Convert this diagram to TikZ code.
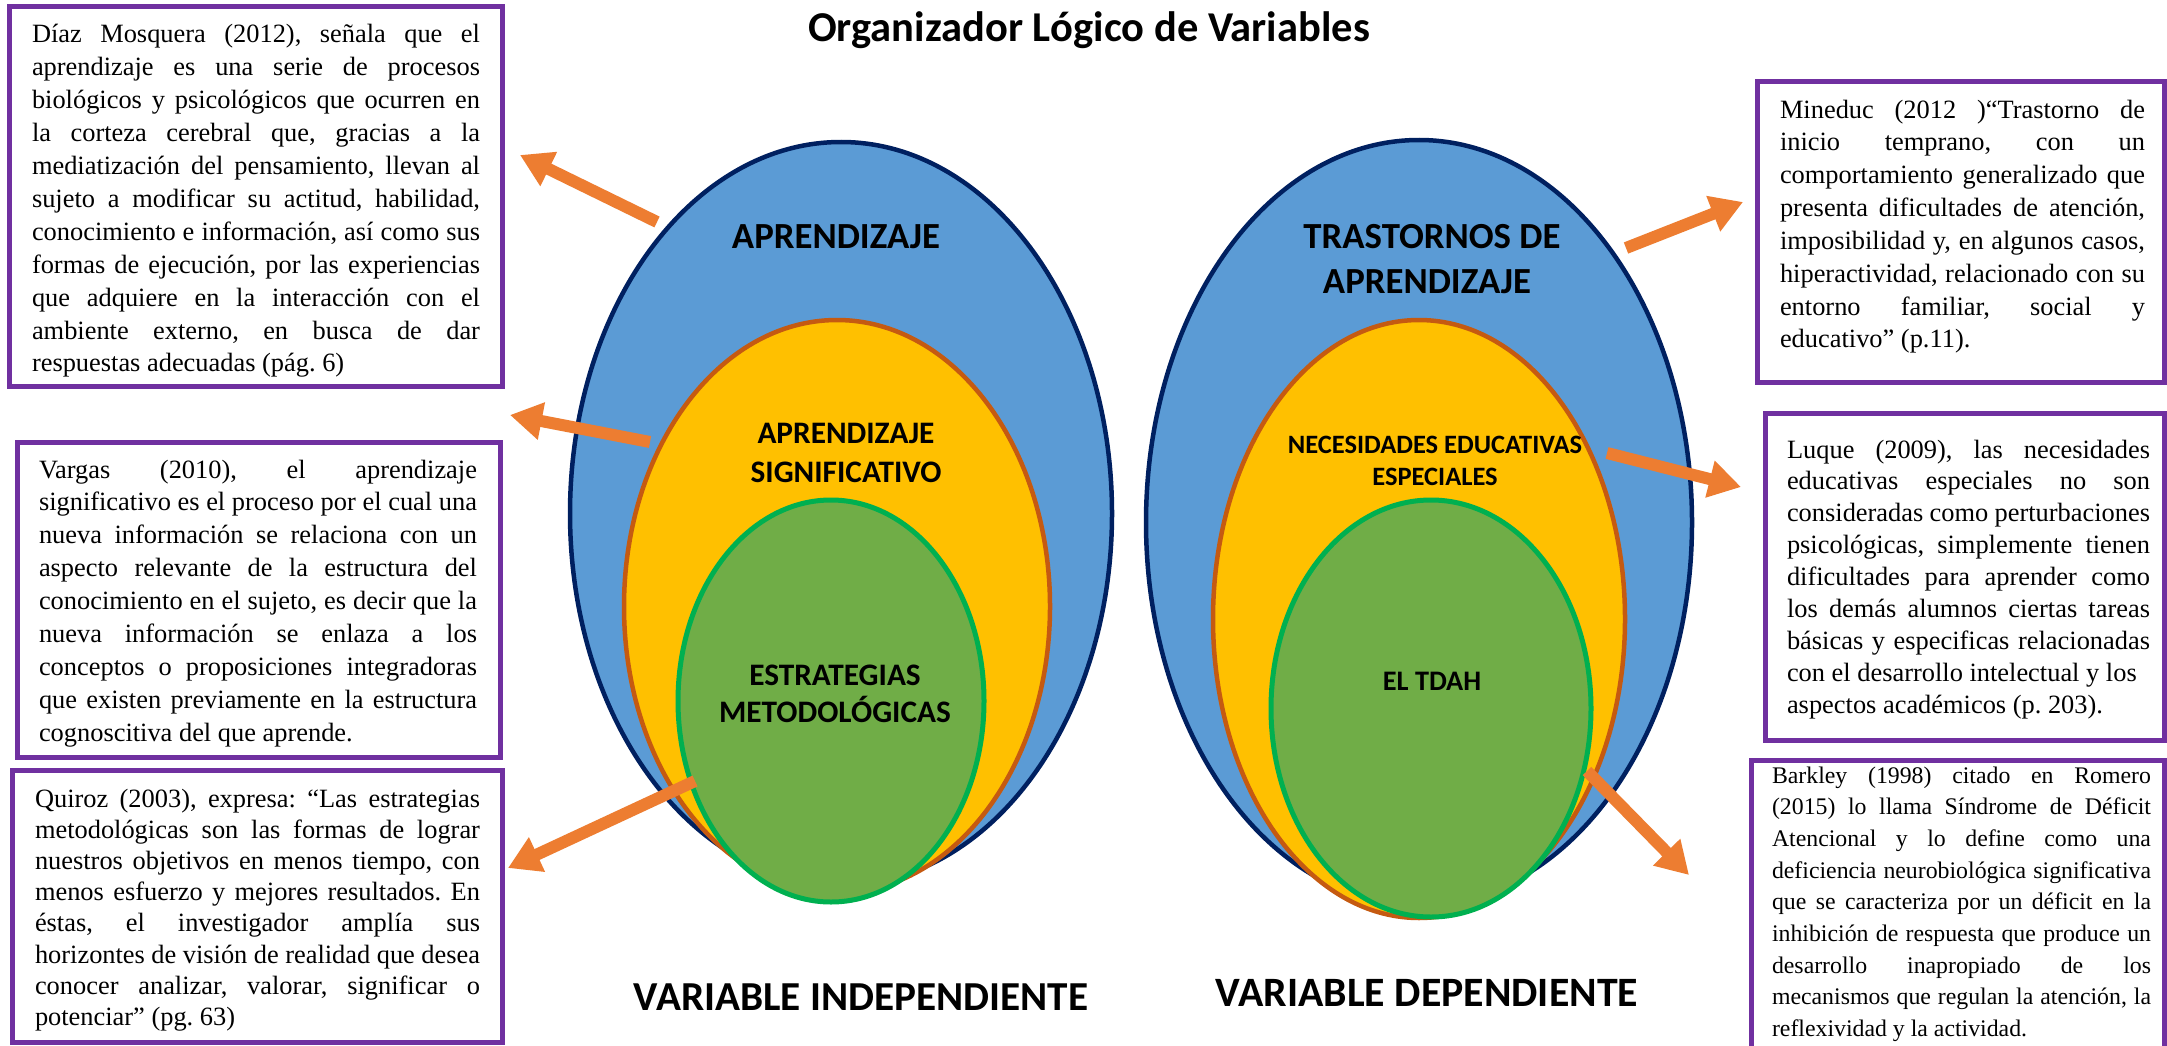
\documentclass[tikz,border=0pt]{standalone}
\usepackage{fontspec}
\setmainfont{Liberation Serif}
\newfontfamily\calib{Carlito}
\usetikzlibrary{arrows.meta,shapes.geometric}
\definecolor{pur}{HTML}{7030A0}
\definecolor{blueF}{HTML}{5B9BD5}
\definecolor{blueD}{HTML}{002060}
\definecolor{orF}{HTML}{FFC000}
\definecolor{orD}{HTML}{C55A11}
\definecolor{grF}{HTML}{70AD47}
\definecolor{grD}{HTML}{00B050}
\definecolor{arr}{HTML}{ED7D31}
\newcommand{\jl}[1]{\hbox to\hsize{#1}}
\newcommand{\lastl}[1]{\hbox to\hsize{#1\hfil}}
\hbadness=10000 \hfuzz=20pt
\frenchspacing
\tikzset{
 pbox/.style={draw=pur, line width=5pt, inner sep=0pt, outer sep=0pt, fill=white},
 txt/.style={anchor=base west, inner sep=0pt, outer sep=0pt},
 ell/.style={ellipse, inner sep=0pt, outer sep=0pt, line width=4.5pt},
 bigell/.style={ell, fill=blueF, draw=blueD},
 midell/.style={ell, fill=orF, draw=orD},
 smlell/.style={ell, fill=grF, draw=grD, line width=5pt},
 lab/.style={anchor=base, inner sep=0pt, outer sep=0pt},
 orarr/.style={draw=arr, line width=12pt, -{Triangle[width=36pt,length=32pt]}},
}
\newcommand{\lf}[1]{\calib\bfseries\fontsize{#1}{#1}\selectfont}
\begin{document}
\begin{tikzpicture}[x=1pt,y=-1pt]
\useasboundingbox (0,0) rectangle (2167,1046);
\clip (0,0) rectangle (2167,1046);
\fill[white] (0,0) rectangle (2167,1046);

% boxes
\node[pbox, minimum width=493pt, minimum height=379pt] (b1) at (255.5,196.5) {};
\node[pbox, minimum width=483.5pt, minimum height=315.5pt] (b2) at (258.75,600) {};
\node[pbox, minimum width=490pt, minimum height=272.5pt] (b3) at (257.5,906.25) {};
\node[pbox, minimum width=407pt, minimum height=300.5pt] (b4) at (1960.5,231.75) {};
\node[pbox, minimum width=399pt, minimum height=327pt] (b5) at (1964.5,576.5) {};
\node[pbox, minimum width=413pt, minimum height=310pt] (b6) at (1957.5,915) {};

% box texts
\node[txt] (t1) at (32,43) {\parbox[t]{448pt}{\fontsize{26.4}{32.9}\selectfont
\jl{Díaz Mosquera (2012), señala que el}
\jl{aprendizaje es una serie de procesos}
\jl{biológicos y psicológicos que ocurren en}
\jl{la corteza cerebral que, gracias a la}
\jl{mediatización del pensamiento, llevan al}
\jl{sujeto a modificar su actitud, habilidad,}
\jl{conocimiento e información, así como sus}
\jl{formas de ejecución, por las experiencias}
\jl{que adquiere en la interacción con el}
\jl{ambiente externo, en busca de dar}
\lastl{respuestas adecuadas (pág. 6)}}};

\node[txt] (t2) at (39,478) {\parbox[t]{438pt}{\fontsize{26.4}{32.96}\selectfont
\jl{Vargas (2010), el aprendizaje}
\jl{significativo es el proceso por el cual una}
\jl{nueva información se relaciona con un}
\jl{aspecto relevante de la estructura del}
\jl{conocimiento en el sujeto, es decir que la}
\jl{nueva información se enlaza a los}
\jl{conceptos o proposiciones integradoras}
\jl{que existen previamente en la estructura}
\lastl{cognoscitiva del que aprende.}}};

\node[txt] (t3) at (35,807) {\parbox[t]{445pt}{\fontsize{26.4}{31.2}\selectfont
\jl{Quiroz (2003), expresa: “Las estrategias}
\jl{metodológicas son las formas de lograr}
\jl{nuestros objetivos en menos tiempo, con}
\jl{menos esfuerzo y mejores resultados. En}
\jl{éstas, el investigador amplía sus}
\jl{horizontes de visión de realidad que desea}
\jl{conocer analizar, valorar, significar o}
\lastl{potenciar” (pg. 63)}}};

\node[txt] (t4) at (1780,118) {\parbox[t]{365pt}{\fontsize{26.4}{32.85}\selectfont
\jl{Mineduc (2012 )“Trastorno de}
\jl{inicio temprano, con un}
\jl{comportamiento generalizado que}
\jl{presenta dificultades de atención,}
\jl{imposibilidad y, en algunos casos,}
\jl{hiperactividad, relacionado con su}
\jl{entorno familiar, social y}
\lastl{educativo” (p.11).}}};

\node[txt] (t5) at (1787,458) {\parbox[t]{363pt}{\fontsize{26.4}{31.9}\selectfont
\jl{Luque (2009), las necesidades}
\jl{educativas especiales no son}
\jl{consideradas como perturbaciones}
\jl{psicológicas, simplemente tienen}
\jl{dificultades para aprender como}
\jl{los demás alumnos ciertas tareas}
\jl{básicas y especificas relacionadas}
\lastl{con el desarrollo intelectual y los}
\lastl{aspectos académicos (p. 203).}}};

\node[txt] (t6) at (1772,783) {\parbox[t]{379pt}{\fontsize{23.8}{31.7}\selectfont
\jl{Barkley (1998) citado en Romero}
\jl{(2015) lo llama Síndrome de Déficit}
\jl{Atencional y lo define como una}
\jl{deficiencia neurobiológica significativa}
\jl{que se caracteriza por un déficit en la}
\jl{inhibición de respuesta que produce un}
\jl{desarrollo inapropiado de los}
\jl{mecanismos que regulan la atención, la}
\lastl{reflexividad y la actividad.}}};

% ellipses
\node[bigell, minimum width=542pt, minimum height=743pt] (e1) at (841,513.5) {};
\node[midell, minimum width=426pt, minimum height=573pt] (e2) at (837,606.5) {};
\node[smlell, minimum width=306pt, minimum height=402pt] (e3) at (831,701) {};
\node[bigell, minimum width=546pt, minimum height=765pt] (e4) at (1419,522.5) {};
\node[midell, minimum width=412pt, minimum height=598pt] (e5) at (1419,619) {};
\node[smlell, minimum width=320pt, minimum height=417pt] (e6) at (1431,708.5) {};

% labels
\node[lab, font=\lf{42.5}] (title) at (1089,42) {Organizador Lógico de Variables};
\node[lab, font=\lf{36.8}] (l1) at (836,248) {APRENDIZAJE};
\node[lab, font=\lf{31.3}] (l2a) at (846,443) {APRENDIZAJE};
\node[lab, font=\lf{31.3}] (l2b) at (846,482) {SIGNIFICATIVO};
\node[lab, font=\lf{31.3}] (l3a) at (835,685) {ESTRATEGIAS};
\node[lab, font=\lf{31.3}] (l3b) at (835,722) {METODOLÓGICAS};
\node[lab, font=\lf{36.8}] (l4a) at (1432,248) {TRASTORNOS DE};
\node[lab, font=\lf{36.8}] (l4b) at (1427,293) {APRENDIZAJE};
\node[lab, font=\lf{26.5}] (l5a) at (1435,453) {NECESIDADES EDUCATIVAS};
\node[lab, font=\lf{26.5}] (l5b) at (1435,485) {ESPECIALES};
\node[lab, font=\lf{28.3}] (l6) at (1432,690) {EL TDAH};
\node[lab, font=\lf{41.2}] (v1) at (861,1010) {VARIABLE INDEPENDIENTE};
\node[lab, font=\lf{41.8}] (v2) at (1427,1006) {VARIABLE DEPENDIENTE};

% arrows
\coordinate (a1s) at (657,222); \coordinate (a1e) at (520,155);
\coordinate (a2s) at (650,442); \coordinate (a2e) at (510,415);
\coordinate (a3s) at (695,781); \coordinate (a3e) at (508,868);
\coordinate (a4s) at (1626,248); \coordinate (a4e) at (1743,202);
\coordinate (a5s) at (1607,453); \coordinate (a5e) at (1741,487);
\coordinate (a6s) at (1587,771); \coordinate (a6e) at (1689,875);
\draw[orarr] (a1s) -- (a1e);
\draw[orarr] (a2s) -- (a2e);
\draw[orarr] (a3s) -- (a3e);
\draw[orarr] (a4s) -- (a4e);
\draw[orarr] (a5s) -- (a5e);
\draw[orarr] (a6s) -- (a6e);
\end{tikzpicture}
\end{document}
